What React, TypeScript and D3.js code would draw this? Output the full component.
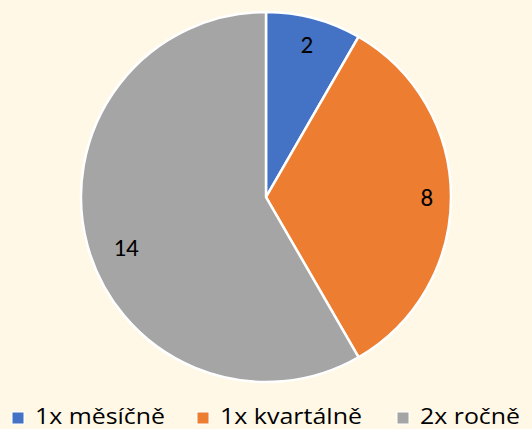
import React from "react";
import * as d3 from "d3";

const categories = ["1x měsíčně", "1x kvartálně", "2x ročně"];
const values = [2, 8, 14];
const colors = ["#4472C4", "#ED7D31", "#A5A5A5"];

const W = 532;
const H = 429;

export default function App() {
  const cx = 266;
  const cy = 197;
  const r = 185;
  const pie = d3.pie<number>().sort(null).value((d) => d);
  const arcs = pie(values);
  const arc = d3.arc<d3.PieArcDatum<number>>().innerRadius(0).outerRadius(r);
  const labelR = [0.855, 0.87, 0.805];
  const labelDA = [0, 0, -5];
  const legendX = [12, 197, 397];
  const legendLen = [130, 142, 100];
  const font = "Carlito, Lato, 'Open Sans', sans-serif";
  const legendFont = "'Open Sans', 'Noto Sans', sans-serif";
  return (
    <svg width={W} height={H} style={{ position: "absolute", left: 0, top: 0, display: "block" }}>
      <rect x={0} y={0} width={W} height={H} fill="#FFF8E6" />
      <g transform={`translate(${cx},${cy})`}>
        {arcs.map((a, i) => (
          <path key={i} d={arc(a) || ""} fill={colors[i]} stroke="#fff" strokeWidth={2.5} strokeLinejoin="round" />
        ))}
        {arcs.map((a, i) => {
          const ang = (a.startAngle + a.endAngle) / 2 + (labelDA[i] * Math.PI) / 180;
          const rr = r * labelR[i];
          const x = Math.sin(ang) * rr;
          const y = -Math.cos(ang) * rr;
          return (
            <text key={i} x={x} y={y} textAnchor="middle" dominantBaseline="central" fontSize={25} fontFamily={font} fill="#000">
              {values[i]}
            </text>
          );
        })}
      </g>
      {categories.map((c, i) => (
        <g key={i}>
          <rect x={legendX[i]} y={412} width={12} height={12} fill={colors[i]} stroke="#fff" strokeWidth={1} />
          <text
            x={legendX[i] + 23}
            y={424}
            fontSize={21}
            fontFamily={legendFont}
            fill="#000"
            textLength={legendLen[i]}
            lengthAdjust="spacingAndGlyphs"
          >
            {c}
          </text>
        </g>
      ))}
    </svg>
  );
}
